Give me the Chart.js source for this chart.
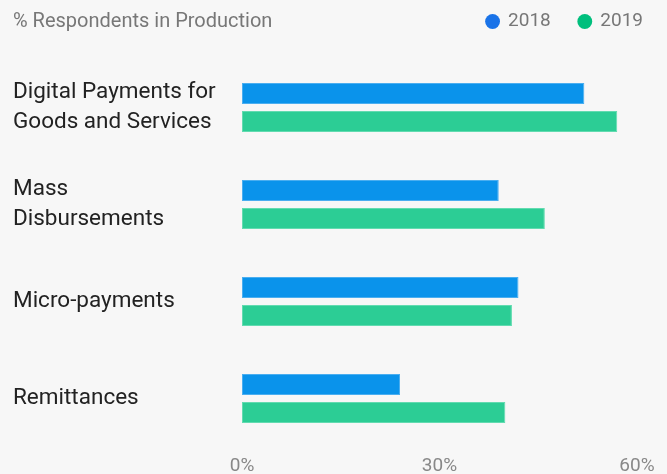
<!DOCTYPE html>
<html>
<head>
<meta charset="utf-8">
<script src="https://cdn.jsdelivr.net/npm/chart.js@4/dist/chart.umd.min.js"></script>
<style>
  html, body { margin: 0; padding: 0; background: #f7f7f7; }
  #wrap { position: relative; width: 667px; height: 474px; }
  #title {
    position: absolute; left: 13px; top: 10px;
    font: 20px/20px Roboto, sans-serif; color: #777;
  }
</style>
</head>
<body>
<div id="wrap">
  <canvas id="myChart" width="667" height="474"></canvas>
  <div id="title">% Respondents in Production</div>
</div>
<script>
const categories = [
  ["Digital Payments for", "Goods and Services"],
  ["Mass", "Disbursements"],
  "Micro-payments",
  "Remittances",
];
const values2018 = [52, 39, 42, 24];
const values2019 = [57, 46, 41, 40];
const xTicks = [0, 30, 60];

const ctx = document.getElementById("myChart");

// legend sits on the same row as the title, top right
const legendRow = {
  id: "legendRow",
  beforeInit(chart) {
    const fit = chart.legend.fit;
    chart.legend.fit = function () {
      fit.call(this);
      this.height = 59;
    };
  },
  afterLayout(chart) {
    chart.legend.top = -16;
    chart.legend.right = 671;
  },
};

new Chart(ctx, {
  type: "bar",
  data: {
    labels: categories,
    datasets: [
      {
        label: "2018",
        data: values2018,
        backgroundColor: "#0a93eb",
        borderColor: "#4aaef0",
        borderWidth: 1,
        borderSkipped: false,
        categoryPercentage: 0.58,
        barPercentage: 0.75,
      },
      {
        label: "2019",
        data: values2019,
        backgroundColor: "#2ccd95",
        borderColor: "#62dbb0",
        borderWidth: 1,
        borderSkipped: false,
        categoryPercentage: 0.58,
        barPercentage: 0.75,
      },
    ],
  },
  options: {
    indexAxis: "y",
    responsive: false,
    animation: false,
    layout: {
      padding: { left: 13, right: 30, top: 0, bottom: 0 },
    },
    plugins: {
      tooltip: { enabled: false },
      legend: {
        position: "top",
        align: "end",
        labels: {
          usePointStyle: true,
          pointStyle: "circle",
          boxWidth: 12,
          boxHeight: 10.5,
          padding: 28,
          color: "#777",
          font: { family: "Roboto", size: 19 },
          generateLabels: (chart) => {
            const legendColors = ["#1a73e8", "#00bf7d"];
            return chart.data.datasets.map((ds, i) => ({
              text: ds.label,
              fillStyle: legendColors[i],
              strokeStyle: legendColors[i],
              lineWidth: 0,
              pointStyle: "circle",
              datasetIndex: i,
              fontColor: "#777",
            }));
          },
        },
      },
    },
    scales: {
      x: {
        min: 0,
        max: 60,
        afterBuildTicks: (scale) => {
          scale.ticks = xTicks.map((v) => ({ value: v }));
        },
        afterFit: (scale) => {
          scale.height = 27;
        },
        grid: { display: false, drawTicks: false },
        border: { display: false },
        ticks: {
          color: "#888",
          padding: 8,
          maxRotation: 0,
          font: { family: "Roboto", size: 19 },
          callback: (v) => v + "%",
        },
      },
      y: {
        grid: { display: false },
        border: { display: false },
        afterFit: (scale) => {
          scale.width = 229;
          scale.paddingTop = 0;
          scale.paddingBottom = 0;
        },
        ticks: {
          crossAlign: "far",
          color: "#222",
          font: { family: "Roboto", size: 22.5, lineHeight: 1.33 },
        },
      },
    },
  },
  plugins: [legendRow],
});
</script>
</body>
</html>
